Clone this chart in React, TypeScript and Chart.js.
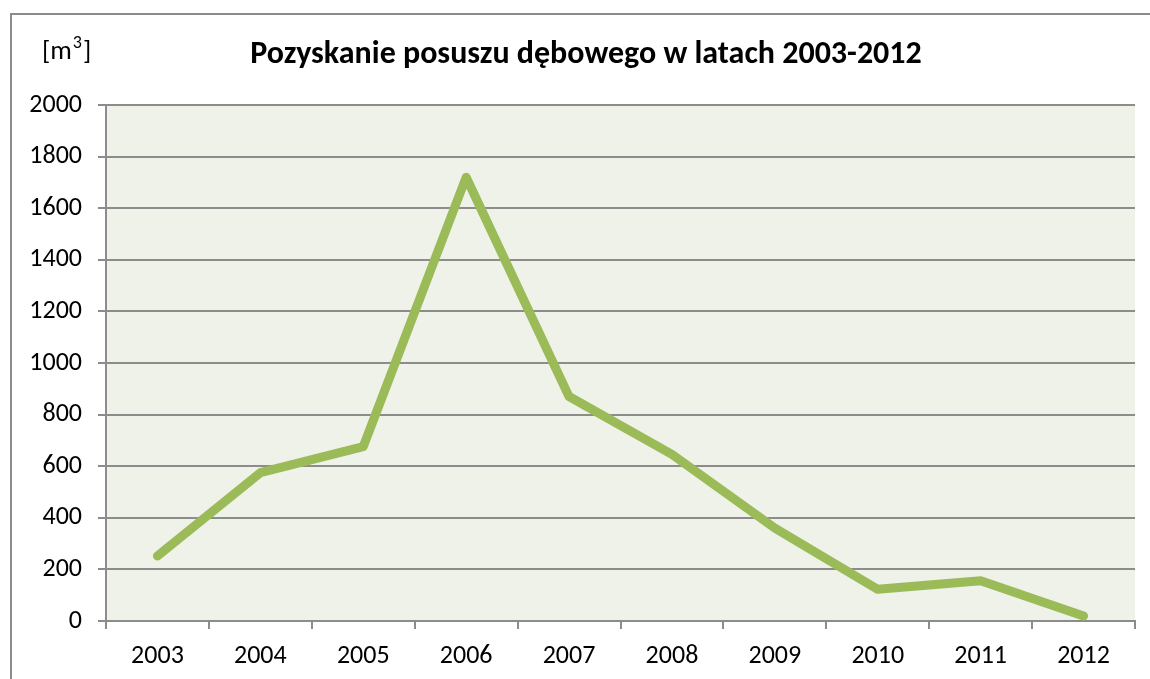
import React, { useEffect, useRef } from "react";
import { Chart, registerables } from "chart.js";

Chart.register(...registerables);

const years = ["2003", "2004", "2005", "2006", "2007", "2008", "2009", "2010", "2011", "2012"];
const harvest = [252, 575, 676, 1720, 870, 646, 360, 123, 156, 19];
const titleText = "Pozyskanie posuszu dębowego w latach 2003-2012";
const unitText = "[m";
const unitSup = "3";

const FONT = "Carlito, Calibri, Lato, 'Open Sans', 'Liberation Sans', sans-serif";

export default function App() {
  const ref = useRef<HTMLCanvasElement | null>(null);

  useEffect(() => {
    if (!ref.current) return;
    const decor = {
      id: "decor",
      beforeDraw(chart: any) {
        const { ctx, chartArea } = chart;
        ctx.save();
        ctx.fillStyle = "#ffffff";
        ctx.fillRect(0, 0, chart.width, chart.height);
        ctx.fillStyle = "#EFF2E9";
        ctx.fillRect(chartArea.left, chartArea.top, chartArea.right - chartArea.left, chartArea.bottom - chartArea.top);
        ctx.strokeStyle = "#8c8c8c";
        ctx.lineWidth = 2;
        ctx.beginPath();
        ctx.moveTo(11, chart.height + 5);
        ctx.lineTo(11, 14);
        ctx.lineTo(chart.width + 5, 14);
        ctx.stroke();
        ctx.restore();
      },
      afterDraw(chart: any) {
        const { ctx } = chart;
        ctx.save();
        ctx.fillStyle = "#000000";
        ctx.textBaseline = "middle";
        ctx.textAlign = "center";
        ctx.font = `bold 32px ${FONT}`;
        ctx.fillText(titleText, 586, 55);
        ctx.textAlign = "left";
        ctx.font = `27px ${FONT}`;
        ctx.fillText(unitText, 42, 52);
        const w = ctx.measureText(unitText).width;
        ctx.font = `18px ${FONT}`;
        ctx.fillText(unitSup, 42 + w + 1, 43);
        const w2 = ctx.measureText(unitSup).width;
        ctx.font = `27px ${FONT}`;
        ctx.fillText("]", 42 + w + w2 + 2, 52);
        ctx.restore();
      },
    };

    const chart = new Chart(ref.current, {
      type: "line",
      data: {
        labels: years,
        datasets: [
          {
            data: harvest,
            borderColor: "#9BBB59",
            borderWidth: 9,
            borderCapStyle: "round",
            borderJoinStyle: "round",
            pointRadius: 0,
            tension: 0,
            fill: false,
          },
        ],
      },
      options: {
        animation: false,
        responsive: false,
        events: [],
        layout: { padding: { top: 105, right: 15, left: 0, bottom: 0 } },
        plugins: { legend: { display: false }, tooltip: { enabled: false }, title: { display: false } },
        scales: {
          x: {
            offset: true,
            grid: {
              offset: true,
              drawOnChartArea: false,
              drawTicks: true,
              tickLength: 8,
              color: "#8c8c8c",
              lineWidth: 2,
            },
            border: { display: true, color: "#8c8c8c", width: 2 },
            ticks: { color: "#000", font: { family: FONT, size: 26 }, padding: 12, maxRotation: 0 },
            afterFit(scale: any) {
              scale.height = 58;
            },
          },
          y: {
            min: 0,
            max: 2000,
            grid: { color: "#8c8c8c", lineWidth: 2, tickLength: 8 },
            border: { display: true, color: "#8c8c8c", width: 2 },
            ticks: {
              stepSize: 200,
              color: "#000",
              font: { family: FONT, size: 26 },
              padding: 16,
              callback: (v: any) => String(v),
            },
            afterFit(scale: any) {
              scale.width = 106;
            },
          },
        },
      },
      plugins: [decor],
    } as any);
    return () => chart.destroy();
  }, []);

  return (
    <div style={{ position: "absolute", left: 0, top: 0, width: 1150, height: 679 }}>
      <canvas ref={ref} width={1150} height={679} style={{ display: "block" }} />
    </div>
  );
}
